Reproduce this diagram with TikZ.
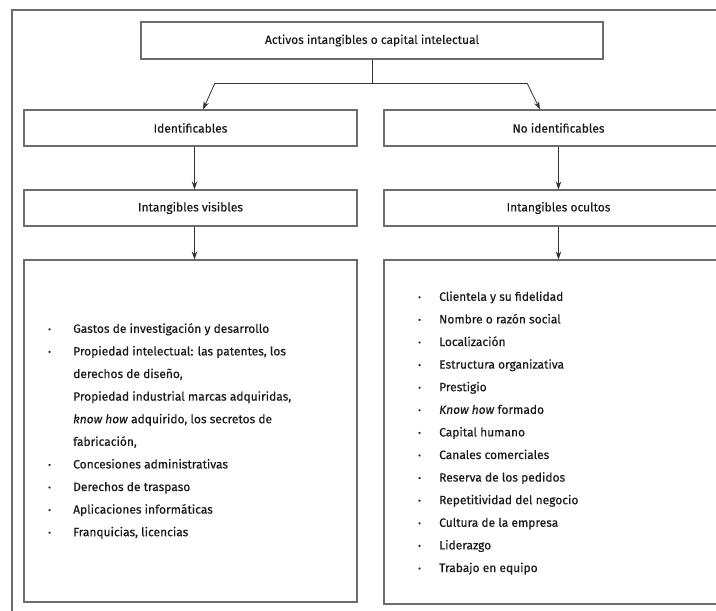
\documentclass[tikz,border=0pt]{standalone}
\usepackage{fontspec}
\setmainfont{Fira Sans}[FakeBold=0.35]
\usepackage{xcolor}
\usetikzlibrary{arrows.meta,positioning,calc}
\definecolor{ln}{gray}{0.42}
\definecolor{tx}{gray}{0.1}
\newlength\bw
\setlength\bw{25pt}
\newcommand{\blt}{\makebox[\bw][l]{\raisebox{0.1ex}{\scalebox{0.7}{\textbullet}}}}
\newcommand{\cnt}{\hspace*{\bw}}
\tikzset{box/.style={draw=ln,line width=1.1pt,minimum height=36pt,text=tx,inner sep=0pt},
 col/.style={box,minimum width=333pt},
 lst/.style={align=left,text=tx,inner sep=0pt,anchor=west},
 flow/.style={-{Stealth[length=8pt,width=5.5pt]},draw=black!80,line width=0.8pt},
 wire/.style={draw=black!80,line width=0.8pt},
 frame/.style={draw=ln,line width=1.3pt}}
\begin{document}
\begin{tikzpicture}[x=1pt,y=-1pt,font=\fontsize{12}{22.6}\selectfont]
\useasboundingbox (0,0) rectangle (716,611);
\clip (0,0) rectangle (716,611);
\draw[frame] (12,640) -- (12,10) -- (740,10);
% top level
\node[box,minimum width=462pt,minimum height=37pt](top) at(372,40.5){Activos intangibles o capital intelectual};
% left column
\node[col](ident) at(190.5,128){Identificables};
\node[col](vis) at(190.5,208){Intangibles visibles};
\node[col,minimum height=342pt](boxL) at(190.5,431){};
\node[lst](itemsL) at(48,431){\blt Gastos de investigación y desarrollo\\
\blt Propiedad intelectual: las patentes, los\\
\cnt derechos de diseño,\\
\cnt Propiedad industrial marcas adquiridas,\\
\cnt\textit{know how} adquirido, los secretos de\\
\cnt fabricación,\\
\blt Concesiones administrativas\\
\blt Derechos de traspaso\\
\blt Aplicaciones informáticas\\
\blt Franquicias, licencias};
% right column
\node[col,minimum width=349pt](noid) at(558.5,128){No identificables};
\node[col,minimum width=349pt](ocu) at(558.5,208){Intangibles ocultos};
\node[col,minimum width=349pt,minimum height=344pt](boxR) at(558.5,432){};
\node[lst,execute at begin node=\setlength\bw{21pt}](itemsR) at(418,433){\blt Clientela y su fidelidad\\
\blt Nombre o razón social\\
\blt Localización\\
\blt Estructura organizativa\\
\blt Prestigio\\
\blt\textit{Know how} formado\\
\blt Capital humano\\
\blt Canales comerciales\\
\blt Reserva de los pedidos\\
\blt Repetitividad del negocio\\
\blt Cultura de la empresa\\
\blt Liderazgo\\
\blt Trabajo en equipo};
% connectors
\coordinate (forkL) at(215,83);
\coordinate (forkR) at(527,83);
\draw[wire](top.south)--(top.south|-forkL);
\draw[wire](forkL)--(forkR);
\draw[flow](forkL)--([xshift=12.5pt]ident.north);
\draw[flow](forkR)--([xshift=-18.5pt]noid.north);
\draw[flow]([xshift=4pt]ident.south)--([xshift=4pt]vis.north);
\draw[flow]([xshift=4pt]vis.south)--([xshift=4pt]boxL.north);
\draw[flow](noid.south)--(ocu.north);
\draw[flow](ocu.south)--(boxR.north);
\end{tikzpicture}
\end{document}
